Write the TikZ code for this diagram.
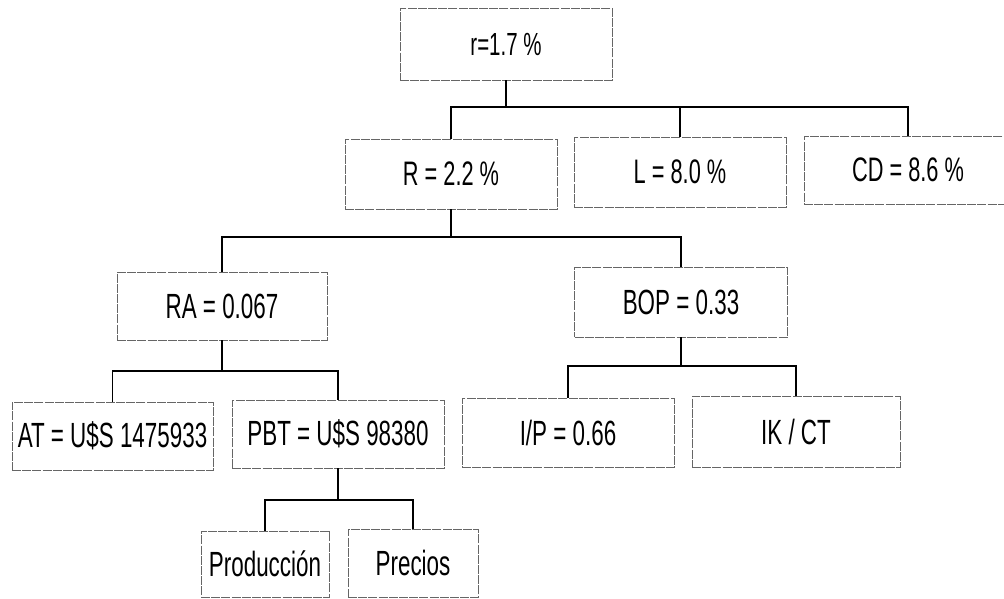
\documentclass[tikz,border=0pt]{standalone}
\usepackage{fontspec}
\setmainfont[FakeStretch=0.64]{Liberation Sans}
\begin{document}
\begin{tikzpicture}[x=1pt,y=-1pt,
  box/.style={draw=black!60,line width=0.8pt,dash pattern=on 9pt off 1.2pt,
    rectangle,inner sep=0pt,font=\fontsize{35}{38}\selectfont,text=black},
  conn/.style={draw=black,line width=1.6pt}]
\clip (0,0) rectangle (1004,599);
\fill[white] (0,0) rectangle (1004,599);
\node[box,minimum width=212pt,minimum height=72pt,font=\fontsize{32}{36}\selectfont] (top) at (506,44) {r=1.7 \%};
\node[box,minimum width=212pt,minimum height=70pt,font=\fontsize{34}{36}\selectfont] (R) at (451,174) {R = 2.2 \%};
\node[box,minimum width=212pt,minimum height=70pt,font=\fontsize{34}{36}\selectfont] (L) at (680,172) {L = 8.0 \%};
\node[box,minimum width=208pt,minimum height=68pt,font=\fontsize{34}{36}\selectfont] (CD) at (908,170) {CD = 8.6 \%};
\node[box,minimum width=210pt,minimum height=68pt] (RA) at (222,306) {RA = 0.067};
\node[box,minimum width=213pt,minimum height=70pt] (BOP) at (681,302) {BOP = 0.33};
\node[box,minimum width=201pt,minimum height=68pt] (AT) at (112.5,436) {AT = U\$S 1475933};
\node[box,minimum width=212pt,minimum height=68pt] (PBT) at (338,434) {PBT = U\$S 98380};
\node[box,minimum width=212pt,minimum height=69pt] (IP) at (568,432.5) {I/P = 0.66};
\node[box,minimum width=208pt,minimum height=71pt] (IK) at (796,431.5) {IK / CT};
\node[box,minimum width=128pt,minimum height=66pt] (Prod) at (265,564) {Producción};
\node[box,minimum width=130pt,minimum height=68pt] (Prec) at (413,563) {Precios};
\coordinate (j1) at (506,107);
\coordinate (j2) at (451,237);
\coordinate (j3) at (222,371);
\coordinate (j4) at (681,366);
\coordinate (j5) at (338,500);
\draw[conn] (top) -- (j1);
\draw[conn] (j1) -| (R);
\draw[conn] (j1) -| (L);
\draw[conn] (j1) -| (CD);
\draw[conn] (R) -- (j2);
\draw[conn] (j2) -| (RA);
\draw[conn] (j2) -| (BOP);
\draw[conn] (RA) -- (j3);
\draw[conn] (j3) -| (AT);
\draw[conn] (j3) -| (PBT);
\draw[conn] (BOP) -- (j4);
\draw[conn] (j4) -| (IP);
\draw[conn] (j4) -| (IK);
\draw[conn] (PBT) -- (j5);
\draw[conn] (j5) -| (Prod);
\draw[conn] (j5) -| (Prec);
\end{tikzpicture}
\end{document}
